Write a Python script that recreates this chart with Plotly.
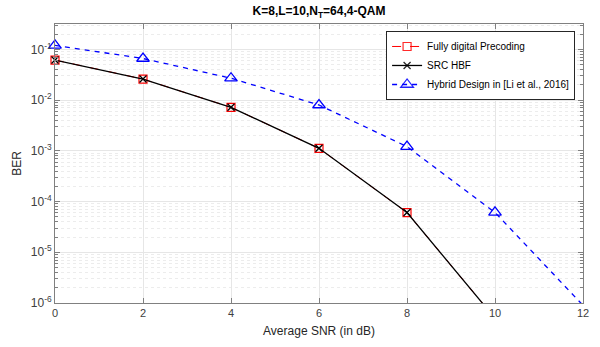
import plotly.graph_objects as go

snr = [0, 2, 4, 6, 8, 10, 12]
fully_digital = [0.0616, 0.026, 0.0072, 0.00112, 6.07e-5, 5e-7]
src_hbf = [0.0616, 0.026, 0.0072, 0.00112, 6.07e-5, 5e-7]
hybrid_li = [0.12, 0.066, 0.027, 0.008, 0.00121, 6.1e-5, 9e-7]

ytick_vals = [1e-6, 1e-5, 1e-4, 1e-3, 1e-2, 1e-1]
ytick_text = ["10<sup>-6</sup>", "10<sup>-5</sup>", "10<sup>-4</sup>",
              "10<sup>-3</sup>", "10<sup>-2</sup>", "10<sup>-1</sup>"]

YMIN = 1e-6
font = "Liberation Sans, Arial, sans-serif"


def vis(vals):
    # hide markers that fall below the visible y range
    return [1 if v >= YMIN else 0 for v in vals]


fig = go.Figure()
fig.add_trace(go.Scatter(
    x=snr[:len(fully_digital)], y=fully_digital, name="Fully digital Precoding",
    mode="lines+markers", cliponaxis=False,
    line=dict(color="#ff0000", width=1, dash="dash"),
    marker=dict(symbol="square-open", size=8, color="#ff0000", line=dict(width=1.2),
                opacity=vis(fully_digital)),
))
fig.add_trace(go.Scatter(
    x=snr[:len(src_hbf)], y=src_hbf, name="SRC HBF",
    mode="lines+markers", cliponaxis=False,
    line=dict(color="#000000", width=1.3),
    marker=dict(symbol="x-thin-open", size=7, color="#000000",
                line=dict(width=1.3, color="#000000"), opacity=vis(src_hbf)),
))
fig.add_trace(go.Scatter(
    x=snr[:len(hybrid_li)], y=hybrid_li, name="Hybrid Design in [Li et al., 2016]",
    mode="lines+markers", cliponaxis=False,
    line=dict(color="#0000ff", width=1.3, dash="5px,5px"),
    marker=dict(symbol="triangle-up-open", size=11, color="#0000ff", line=dict(width=1.3),
                opacity=vis(hybrid_li)),
))

fig.update_layout(
    width=600, height=347,
    margin=dict(l=55, r=17, t=24, b=44, autoexpand=False),
    paper_bgcolor="white", plot_bgcolor="white",
    font=dict(family=font, size=11, color="#262626"),
    title=dict(text="<b>K=8,L=10,N<sub>T</sub>=64,4-QAM</b>", x=(55 + 583) / 2 / 600,
               xanchor="center", y=1 - 11 / 347, yanchor="middle",
               font=dict(family=font, size=12, color="#000000")),
    showlegend=True,
    legend=dict(x=0.985, y=0.975, xanchor="right", yanchor="top",
                bgcolor="white", bordercolor="#262626", borderwidth=1,
                font=dict(family=font, size=10, color="#000000"),
                tracegroupgap=0, itemwidth=30),
)
fig.update_xaxes(
    range=[0, 12], tickvals=[0, 2, 4, 6, 8, 10, 12],
    showgrid=True, gridcolor="#e6e6e6", gridwidth=1,
    showline=True, linecolor="#808080", linewidth=1, mirror="allticks",
    ticks="inside", ticklen=5, tickcolor="#808080",
    tickfont=dict(size=11, color="#404040"),
    zeroline=False, automargin=False,
    title=dict(text="Average SNR (in dB)", standoff=8, font=dict(size=12, color="#262626")),
)
fig.update_yaxes(
    type="log", range=[-6, -0.5],
    tickvals=ytick_vals, ticktext=ytick_text,
    showgrid=True, gridcolor="#e6e6e6", gridwidth=1,
    showline=True, linecolor="#808080", linewidth=1, mirror="allticks",
    ticks="inside", ticklen=5, tickcolor="#808080",
    tickfont=dict(size=12, color="#404040"),
    minor=dict(dtick="D1", ticks="inside", ticklen=3, tickcolor="#808080",
               showgrid=True, gridcolor="#ececec", griddash="dot", gridwidth=1),
    zeroline=False, automargin=False,
    title=dict(text="BER", standoff=6, font=dict(size=12, color="#262626")),
)

fig.write_html("out.html", config={"displayModeBar": False},
               post_script="document.body.style.margin='0';")
